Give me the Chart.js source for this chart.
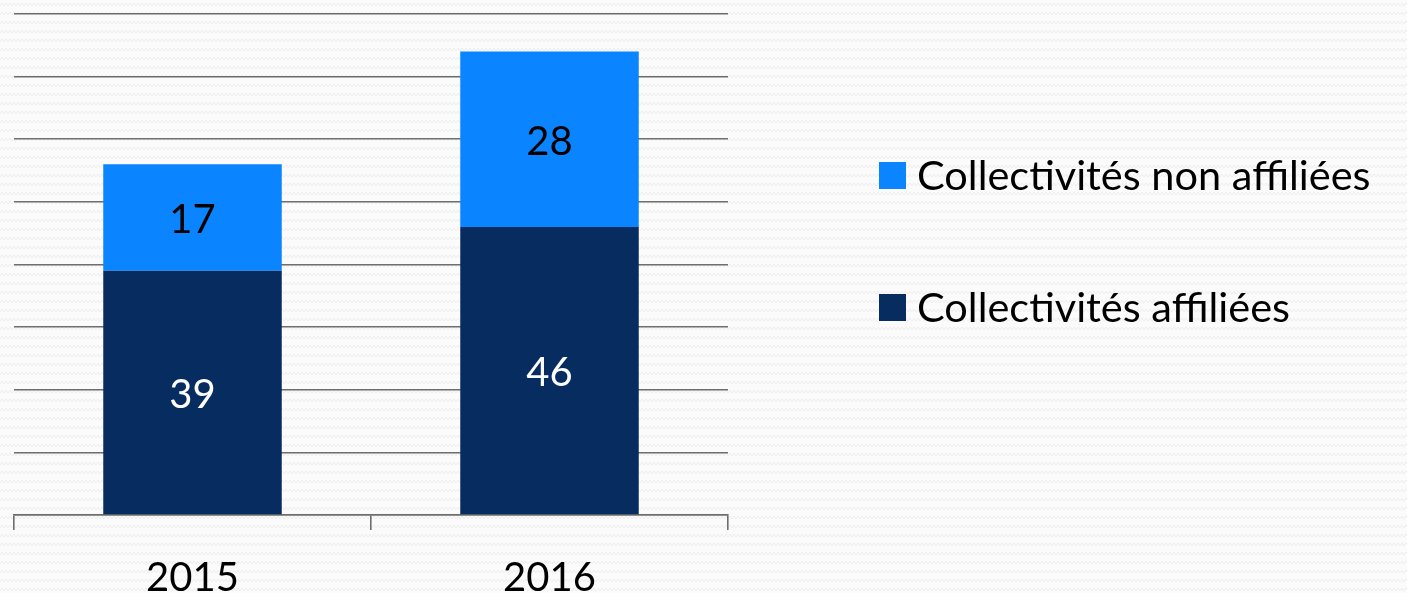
<!DOCTYPE html>
<html>
<head>
<meta charset="utf-8">
<script src="https://cdn.jsdelivr.net/npm/chart.js@4.4.1/dist/chart.umd.min.js"></script>
<style>
  html, body { margin: 0; padding: 0; }
  body {
    width: 1407px; height: 593px; overflow: hidden; position: relative;
    background-color: #fbfbfb;
    background-image: url("data:image/svg+xml;utf8,<svg xmlns='http://www.w3.org/2000/svg' width='8' height='9'><polyline points='0,6 2,3 4,6 6,3 8,6' fill='none' stroke='%23eeeeee' stroke-width='1'/></svg>");
  }
  #wrap { position: absolute; left: 0; top: 0; width: 1407px; height: 593px; }
  #legend { position: absolute; left: 879px; top: 0; font-family: Lato, "Open Sans", sans-serif; }
  .item { position: absolute; left: 0; white-space: nowrap; display: flex; align-items: center; }
  .box { width: 27px; height: 27px; margin-right: 11px; flex: none; }
  .txt { font-size: 41.5px; color: #000; line-height: 1; }
</style>
</head>
<body>
<div id="wrap"><canvas id="c" width="1407" height="593"></canvas></div>
<div id="legend"></div>
<script>
const categories = ["2015", "2016"];
const affiliees = [39, 46];
const nonAffiliees = [17, 28];
const seriesLabels = ["Collectivités affiliées", "Collectivités non affiliées"];
const seriesColors = ["#072D60", "#0A84FF"];
const labelColors = ["#ffffff", "#000000"];
const yMax = 80;
const yStep = 10;

const FONT = 'Lato, "Open Sans", sans-serif';

const barLabels = {
  id: 'barLabels',
  afterDatasetsDraw(chart) {
    const ctx = chart.ctx;
    ctx.save();
    ctx.font = '40px ' + FONT;
    ctx.textAlign = 'center';
    ctx.textBaseline = 'middle';
    chart.data.datasets.forEach((ds, di) => {
      const meta = chart.getDatasetMeta(di);
      meta.data.forEach((bar, i) => {
        const p = bar.getProps(['x', 'y', 'base'], true);
        ctx.fillStyle = labelColors[di];
        ctx.fillText(String(ds.data[i]), p.x, (p.y + p.base) / 2 + 3);
      });
    });
    ctx.restore();
  }
};

const chart = new Chart(document.getElementById('c'), {
  type: 'bar',
  data: {
    labels: categories,
    datasets: [
      { label: seriesLabels[0], data: affiliees, backgroundColor: seriesColors[0] },
      { label: seriesLabels[1], data: nonAffiliees, backgroundColor: seriesColors[1] }
    ]
  },
  options: {
    responsive: false,
    animation: false,
    events: [],
    layout: { padding: { left: 14, right: 679, top: 14, bottom: 0 } },
    datasets: { bar: { barPercentage: 0.5, categoryPercentage: 1.0 } },
    plugins: { legend: { display: false }, tooltip: { enabled: false } },
    scales: {
      x: {
        stacked: true,
        offset: true,
        afterFit(scale) { scale.height = 78; },
        grid: { offset: true, drawOnChartArea: false, drawTicks: true, tickLength: 15, color: '#6e6e6e', lineWidth: 1.6 },
        border: { display: true, color: '#6e6e6e', width: 1.6 },
        ticks: { color: '#000', font: { family: FONT, size: 40 }, padding: 24 }
      },
      y: {
        stacked: true,
        min: 0, max: yMax,
        ticks: { display: false, stepSize: yStep },
        grid: { drawTicks: false, color: '#6e6e6e', lineWidth: 1.6 },
        border: { display: false }
      }
    }
  },
  plugins: [barLabels]
});

// HTML legend from dataset definitions (reverse order, as in reference)
const legend = document.getElementById('legend');
const tops = [175, 307];
chart.data.datasets.slice().reverse().forEach((ds, k) => {
  const it = document.createElement('div');
  it.className = 'item';
  it.style.top = (tops[k] - 22) + 'px';
  it.style.height = '44px';
  const b = document.createElement('div');
  b.className = 'box';
  b.style.background = ds.backgroundColor;
  const t = document.createElement('span');
  t.className = 'txt';
  t.textContent = ds.label;
  it.appendChild(b); it.appendChild(t);
  legend.appendChild(it);
});
</script>
</body>
</html>
